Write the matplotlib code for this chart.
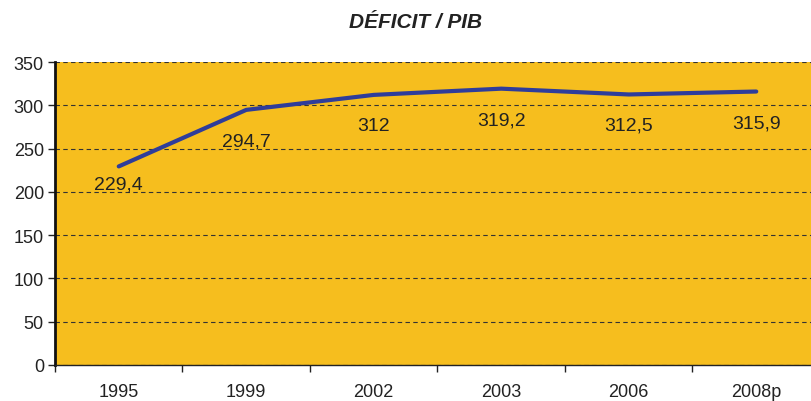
import matplotlib
matplotlib.use("Agg")
import matplotlib.pyplot as plt
import numpy as np

categories = ["1995", "1999", "2002", "2003", "2006", "2008p"]
values = [229.4, 294.7, 312, 319.2, 312.5, 315.9]
labels = ["229,4", "294,7", "312", "319,2", "312,5", "315,9"]

plt.rcParams['font.family'] = ['Liberation Sans', 'DejaVu Sans']

W, H = 812, 402
fig = plt.figure(figsize=(W / 100, H / 100), dpi=100)
fig.patch.set_facecolor('white')

left, right, top, bottom = 55, 820, 63, 366
ax = fig.add_axes([left / W, 1 - bottom / H, (right - left) / W, (bottom - top) / H])
ax.set_facecolor('#F6BE1E')

x = np.arange(len(categories))
ax.plot(x, values, color='#2f3d9a', lw=3, solid_capstyle='round', zorder=3)

for i, (v, lab) in enumerate(zip(values, labels)):
    off = -18 if i == 0 else -31
    ax.annotate(lab, (x[i], v), xytext=(0, off * 0.72), textcoords='offset points',
                ha='center', va='center', fontsize=14, color='#222222', zorder=4)

ax.set_xlim(-0.5, len(categories) - 0.5)
ax.set_ylim(0, 350)
ax.set_yticks(np.arange(0, 351, 50))
ax.yaxis.grid(True, linestyle=(0, (4, 3)), color='#333333', lw=0.8)
ax.set_axisbelow(True)

ax.set_xticks(x)
ax.set_xticklabels(categories, fontsize=13, color='#222222')
ax.set_xticks(np.arange(-0.5, len(categories) + 0.5, 1), minor=True)
ax.tick_params(axis='x', which='major', length=0, pad=13)
ax.tick_params(axis='x', which='minor', length=5, width=1, color='#222222', direction='out')
ax.tick_params(axis='y', labelsize=13, labelcolor='#222222', length=5, width=1,
               color='#222222', pad=3)

for s in ['top', 'right']:
    ax.spines[s].set_visible(False)
ax.spines['left'].set_linewidth(2)
ax.spines['left'].set_color('#111111')
ax.spines['bottom'].set_linewidth(1)
ax.spines['bottom'].set_color('#222222')

fig.text(416 / W, 1 - 22 / H, "DÉFICIT / PIB", ha='center', va='center',
         fontsize=15, fontweight='bold', fontstyle='italic', color='#222222')

fig.savefig("out.png", dpi=100, facecolor='white')
